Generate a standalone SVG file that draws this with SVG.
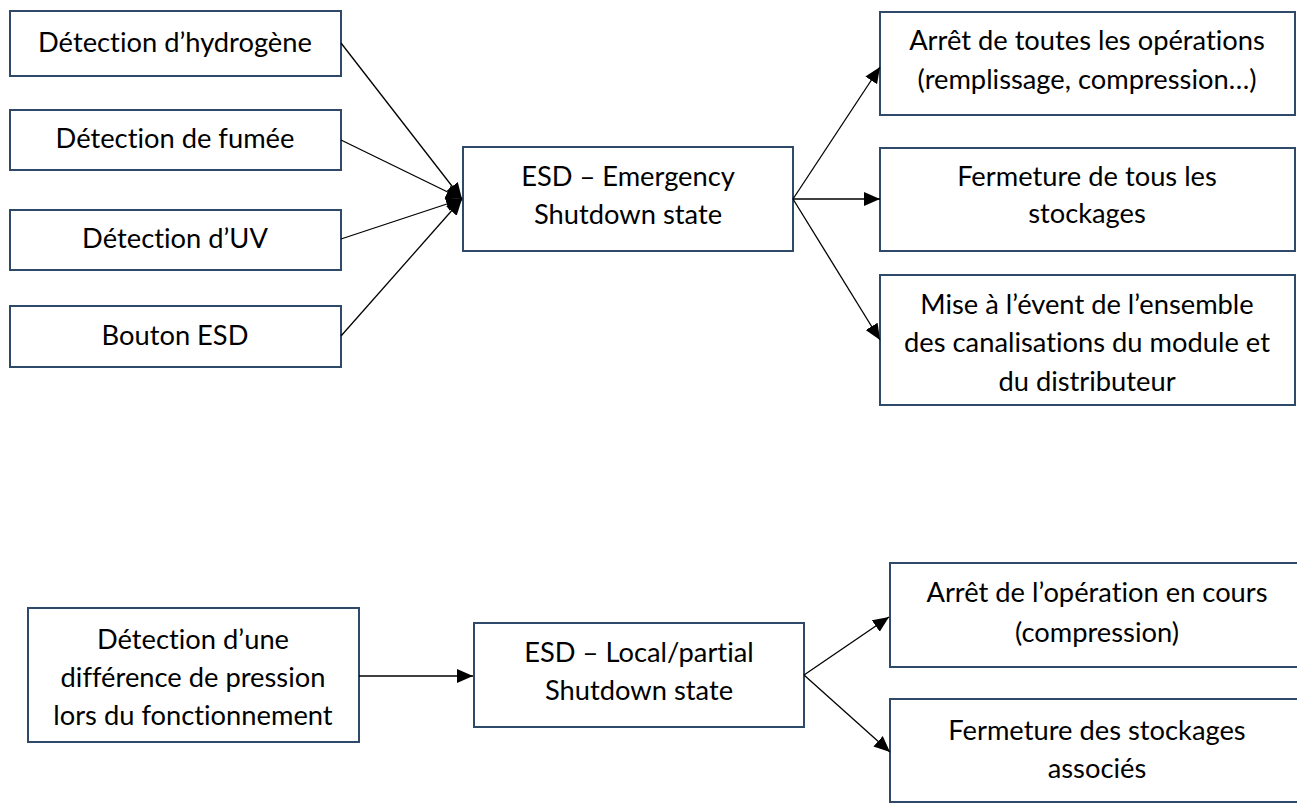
<svg xmlns="http://www.w3.org/2000/svg" width="1297" height="803" viewBox="0 0 1297 803">
  <style>
    .box { fill: #ffffff; stroke: #2E4A68; stroke-width: 2; }
    .lbl { font-family: Lato, "Liberation Sans", sans-serif; font-size: 27.3px; fill: #000000; text-anchor: middle; font-variant-ligatures: none; }
    .link { fill: none; stroke: #000000; stroke-width: 1.3; }
  </style>
  <defs>
    <marker id="head" markerUnits="userSpaceOnUse" markerWidth="17" markerHeight="15" refX="16" refY="7" orient="auto">
      <path d="M0,0 L16,7 L0,14 z" fill="#000000"/>
    </marker>
  </defs>
  <rect x="0" y="0" width="1297" height="803" fill="#ffffff"/>

  <!-- Emergency shutdown: triggers -->
  <g id="det-hydrogene">
    <rect class="box" x="10" y="11" width="331" height="65"/>
    <text class="lbl" x="175" y="52">Détection d’hydrogène</text>
  </g>
  <g id="det-fumee">
    <rect class="box" x="10" y="110" width="331" height="60"/>
    <text class="lbl" x="175" y="148">Détection de fumée</text>
  </g>
  <g id="det-uv">
    <rect class="box" x="10" y="210" width="331" height="60"/>
    <text class="lbl" x="175" y="248">Détection d’UV</text>
  </g>
  <g id="bouton-esd">
    <rect class="box" x="10" y="306" width="331" height="61"/>
    <text class="lbl" x="175" y="345">Bouton ESD</text>
  </g>

  <!-- Emergency shutdown state -->
  <g id="esd-emergency">
    <rect class="box" x="463" y="147" width="330" height="104"/>
    <text class="lbl" x="628" y="186">ESD – Emergency</text>
    <text class="lbl" x="628" y="224">Shutdown state</text>
  </g>

  <!-- Emergency shutdown: actions -->
  <g id="arret-toutes">
    <rect class="box" x="880" y="12" width="415" height="103"/>
    <text class="lbl" x="1087" y="50">Arrêt de toutes les opérations</text>
    <text class="lbl" x="1087" y="89">(remplissage, compression…)</text>
  </g>
  <g id="fermeture-tous">
    <rect class="box" x="880" y="148" width="415" height="103"/>
    <text class="lbl" x="1087" y="186">Fermeture de tous les</text>
    <text class="lbl" x="1087" y="223">stockages</text>
  </g>
  <g id="mise-event">
    <rect class="box" x="880" y="275" width="415" height="130"/>
    <text class="lbl" x="1087" y="314">Mise à l’évent de l’ensemble</text>
    <text class="lbl" x="1087" y="352">des canalisations du module et</text>
    <text class="lbl" x="1087" y="391">du distributeur</text>
  </g>

  <!-- Local / partial shutdown -->
  <g id="det-pression">
    <rect class="box" x="28" y="608" width="331" height="134"/>
    <text class="lbl" x="193" y="649">Détection d’une</text>
    <text class="lbl" x="193" y="687">différence de pression</text>
    <text class="lbl" x="193" y="725">lors du fonctionnement</text>
  </g>
  <g id="esd-local">
    <rect class="box" x="474" y="623" width="330" height="104"/>
    <text class="lbl" x="639" y="662">ESD – Local/partial</text>
    <text class="lbl" x="639" y="700">Shutdown state</text>
  </g>
  <g id="arret-operation">
    <rect class="box" x="890" y="563" width="415" height="104"/>
    <text class="lbl" x="1097" y="602">Arrêt de l’opération en cours</text>
    <text class="lbl" x="1097" y="642">(compression)</text>
  </g>
  <g id="fermeture-associes">
    <rect class="box" x="890" y="699" width="415" height="103"/>
    <text class="lbl" x="1097" y="740">Fermeture des stockages</text>
    <text class="lbl" x="1097" y="778">associés</text>
  </g>

  <!-- Connectors -->
  <g id="connectors">
    <line class="link" x1="341" y1="43" x2="462" y2="199" marker-end="url(#head)"/>
    <line class="link" x1="341" y1="140" x2="462" y2="199" marker-end="url(#head)"/>
    <line class="link" x1="341" y1="239" x2="462" y2="199" marker-end="url(#head)"/>
    <line class="link" x1="341" y1="336" x2="462" y2="199" marker-end="url(#head)"/>
    <line class="link" x1="793" y1="199" x2="880" y2="67" marker-end="url(#head)"/>
    <line class="link" x1="793" y1="199" x2="880" y2="199" marker-end="url(#head)"/>
    <line class="link" x1="793" y1="199" x2="880" y2="340" marker-end="url(#head)"/>
    <line class="link" x1="359" y1="676" x2="473" y2="676" marker-end="url(#head)"/>
    <line class="link" x1="804" y1="675" x2="889" y2="617" marker-end="url(#head)"/>
    <line class="link" x1="804" y1="675" x2="890" y2="752" marker-end="url(#head)"/>
  </g>
</svg>
